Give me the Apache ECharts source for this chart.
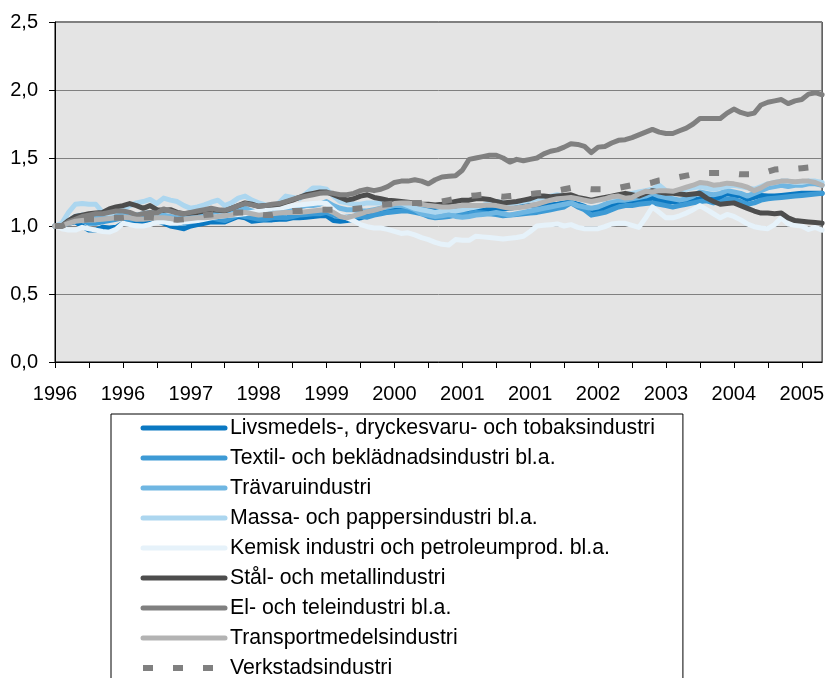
<!DOCTYPE html>
<html>
<head>
<meta charset="utf-8">
<script src="https://cdn.jsdelivr.net/npm/echarts@6/dist/echarts.min.js"></script>
<style>
  html, body { margin: 0; padding: 0; background: #fff; }
  #chart { width: 827px; height: 678px; }
</style>
</head>
<body>
<div id="chart"></div>
<script>
// månadsvärden jan 1996 - jun 2005, index 1996-01 = 1,0
var months = [];
for (var i = 0; i < 114; i++) {
    var mm = i % 12 + 1;
    months.push((1996 + Math.floor(i / 12)) + '-' + (mm < 10 ? '0' + mm : mm));
}

var livsmedel = [
    1.00, 1.00, 1.02, 1.03, 1.00, 0.97, 0.97, 0.99, 0.985, 0.99, 1.02, 1.03,
    1.04, 1.03, 1.05, 1.04, 1.02, 1.00, 0.99, 0.98, 1.00, 1.01, 1.02, 1.03,
    1.03, 1.03, 1.05, 1.07, 1.06, 1.035, 1.04, 1.045, 1.045, 1.05, 1.05, 1.06,
    1.06, 1.065, 1.07, 1.075, 1.075, 1.04, 1.035, 1.04, 1.05, 1.06, 1.08, 1.095,
    1.10, 1.11, 1.12, 1.125, 1.125, 1.13, 1.12, 1.12, 1.125, 1.13, 1.13, 1.12,
    1.115, 1.12, 1.115, 1.12, 1.125, 1.13, 1.125, 1.13, 1.14, 1.145, 1.15, 1.155,
    1.155, 1.155, 1.16, 1.17, 1.18, 1.16, 1.145, 1.095, 1.11, 1.125, 1.15, 1.175,
    1.18, 1.18, 1.18, 1.19, 1.205, 1.19, 1.18, 1.18, 1.175, 1.175, 1.19, 1.20,
    1.20, 1.195, 1.21, 1.24, 1.225, 1.22, 1.195, 1.21, 1.225, 1.22, 1.22, 1.225,
    1.23, 1.235, 1.24, 1.24, 1.24, 1.24
];
var textil = [
    1.00, 1.00, 1.03, 1.05, 1.04, 1.02, 1.02, 1.03, 1.04, 1.05, 1.06, 1.05,
    1.05, 1.06, 1.07, 1.05, 1.04, 1.03, 1.03, 1.02, 1.03, 1.04, 1.06, 1.06,
    1.05, 1.04, 1.06, 1.08, 1.07, 1.06, 1.05, 1.05, 1.06, 1.065, 1.06, 1.07,
    1.08, 1.085, 1.09, 1.09, 1.10, 1.08, 1.07, 1.065, 1.07, 1.07, 1.065, 1.08,
    1.09, 1.10, 1.105, 1.11, 1.11, 1.10, 1.09, 1.07, 1.06, 1.065, 1.07, 1.08,
    1.085, 1.09, 1.10, 1.095, 1.09, 1.085, 1.075, 1.08, 1.085, 1.09, 1.095, 1.10,
    1.11, 1.12, 1.13, 1.14, 1.17, 1.14, 1.12, 1.08, 1.09, 1.10, 1.12, 1.14,
    1.15, 1.15, 1.16, 1.165, 1.17, 1.16, 1.15, 1.14, 1.15, 1.16, 1.17, 1.18,
    1.185, 1.17, 1.175, 1.20, 1.195, 1.18, 1.16, 1.17, 1.19, 1.20, 1.205, 1.21,
    1.215, 1.22, 1.225, 1.23, 1.235, 1.24
];
var travaru = [
    1.00, 1.00, 1.04, 1.07, 1.08, 1.07, 1.06, 1.07, 1.08, 1.09, 1.10, 1.09,
    1.08, 1.09, 1.10, 1.09, 1.08, 1.07, 1.06, 1.06, 1.07, 1.08, 1.09, 1.10,
    1.09, 1.08, 1.10, 1.12, 1.13, 1.11, 1.10, 1.10, 1.11, 1.12, 1.12, 1.13,
    1.14, 1.15, 1.15, 1.16, 1.18, 1.15, 1.13, 1.12, 1.12, 1.11, 1.11, 1.12,
    1.13, 1.14, 1.15, 1.15, 1.14, 1.12, 1.09, 1.08, 1.07, 1.075, 1.085, 1.07,
    1.065, 1.07, 1.08, 1.085, 1.09, 1.10, 1.09, 1.08, 1.09, 1.10, 1.11, 1.12,
    1.13, 1.14, 1.15, 1.16, 1.17, 1.15, 1.14, 1.13, 1.14, 1.16, 1.18, 1.19,
    1.19, 1.20, 1.21, 1.22, 1.24, 1.22, 1.21, 1.20, 1.19, 1.20, 1.22, 1.25,
    1.24, 1.23, 1.24, 1.26, 1.25, 1.24, 1.22, 1.24, 1.26, 1.28, 1.29, 1.30,
    1.29, 1.30, 1.30, 1.31, 1.31, 1.30
];
var massa = [
    1.00, 1.02, 1.10, 1.16, 1.165, 1.16, 1.16, 1.10, 1.085, 1.11, 1.12, 1.15,
    1.17, 1.18, 1.195, 1.165, 1.205, 1.19, 1.18, 1.15, 1.13, 1.14, 1.155, 1.175,
    1.19, 1.15, 1.17, 1.205, 1.22, 1.19, 1.17, 1.155, 1.145, 1.17, 1.22, 1.21,
    1.20, 1.24, 1.28, 1.28, 1.27, 1.22, 1.18, 1.17, 1.16, 1.16, 1.17, 1.17,
    1.17, 1.17, 1.17, 1.17, 1.15, 1.13, 1.12, 1.11, 1.10, 1.11, 1.12, 1.11,
    1.12, 1.13, 1.14, 1.15, 1.17, 1.18, 1.17, 1.16, 1.17, 1.18, 1.19, 1.20,
    1.21, 1.22, 1.23, 1.22, 1.21, 1.20, 1.19, 1.18, 1.19, 1.20, 1.21, 1.22,
    1.23, 1.24, 1.25, 1.26, 1.27, 1.30, 1.26, 1.25, 1.26, 1.27, 1.28, 1.29,
    1.28, 1.27, 1.28, 1.29, 1.30, 1.29, 1.28, 1.27, 1.29, 1.31, 1.32, 1.33,
    1.33, 1.32, 1.32, 1.33, 1.33, 1.32
];
var kemisk = [
    1.00, 0.98, 0.97, 0.97, 0.99, 0.98, 0.97, 0.96, 0.955, 0.975, 1.02, 1.01,
    1.00, 1.00, 1.01, 1.03, 1.03, 1.02, 1.02, 1.03, 1.035, 1.04, 1.05, 1.06,
    1.07, 1.075, 1.08, 1.085, 1.09, 1.10, 1.11, 1.12, 1.13, 1.13, 1.14, 1.15,
    1.155, 1.16, 1.165, 1.17, 1.165, 1.12, 1.08, 1.06, 1.04, 1.01, 0.995, 0.985,
    0.985, 0.975, 0.96, 0.945, 0.95, 0.935, 0.915, 0.90, 0.88, 0.865, 0.86, 0.90,
    0.895, 0.895, 0.925, 0.92, 0.915, 0.91, 0.905, 0.91, 0.915, 0.925, 0.96, 1.00,
    1.005, 1.01, 1.015, 1.00, 1.01, 0.99, 0.98, 0.98, 0.98, 0.995, 1.015, 1.02,
    1.02, 1.005, 0.99, 1.06, 1.14, 1.10, 1.06, 1.06, 1.075, 1.095, 1.12, 1.15,
    1.12, 1.09, 1.06, 1.085, 1.07, 1.045, 1.015, 0.995, 0.985, 0.98, 1.01, 1.06,
    1.015, 1.005, 1.00, 0.975, 0.99, 0.97
];
var stal = [
    1.00, 1.00, 1.04, 1.07, 1.08, 1.09, 1.095, 1.10, 1.125, 1.14, 1.15, 1.165,
    1.15, 1.13, 1.15, 1.12, 1.115, 1.12, 1.10, 1.09, 1.095, 1.10, 1.11, 1.12,
    1.115, 1.11, 1.13, 1.15, 1.17, 1.16, 1.145, 1.15, 1.155, 1.16, 1.175, 1.19,
    1.21, 1.23, 1.24, 1.25, 1.25, 1.23, 1.21, 1.19, 1.20, 1.22, 1.23, 1.21,
    1.20, 1.19, 1.185, 1.18, 1.175, 1.17, 1.16, 1.16, 1.155, 1.16, 1.17, 1.18,
    1.19, 1.19, 1.20, 1.20, 1.195, 1.18, 1.17, 1.175, 1.18, 1.19, 1.20, 1.22,
    1.22, 1.215, 1.22, 1.225, 1.23, 1.21, 1.20, 1.19, 1.20, 1.21, 1.22, 1.23,
    1.24, 1.23, 1.22, 1.24, 1.26, 1.25, 1.24, 1.24, 1.235, 1.23, 1.235, 1.24,
    1.205, 1.18, 1.16, 1.165, 1.17, 1.15, 1.13, 1.11, 1.095, 1.095, 1.09, 1.095,
    1.06, 1.04, 1.035, 1.03, 1.025, 1.02
];
var eltele = [
    1.00, 1.00, 1.03, 1.05, 1.07, 1.08, 1.09, 1.09, 1.10, 1.11, 1.11, 1.10,
    1.08, 1.09, 1.10, 1.095, 1.125, 1.11, 1.095, 1.09, 1.10, 1.11, 1.12, 1.13,
    1.12, 1.115, 1.13, 1.15, 1.165, 1.155, 1.145, 1.15, 1.16, 1.165, 1.18, 1.195,
    1.21, 1.22, 1.23, 1.24, 1.245, 1.24, 1.23, 1.23, 1.24, 1.26, 1.27, 1.26,
    1.27, 1.29, 1.32, 1.33, 1.33, 1.34, 1.33, 1.31, 1.34, 1.36, 1.365, 1.37,
    1.41, 1.49, 1.50, 1.51, 1.52, 1.52, 1.50, 1.47, 1.49, 1.48, 1.49, 1.50,
    1.53, 1.55, 1.56, 1.58, 1.605, 1.60, 1.585, 1.54, 1.58, 1.585, 1.61, 1.63,
    1.635, 1.65, 1.67, 1.69, 1.71, 1.69, 1.68, 1.68, 1.70, 1.72, 1.75, 1.79,
    1.79, 1.79, 1.79, 1.83, 1.86, 1.835, 1.82, 1.83, 1.89, 1.91, 1.92, 1.93,
    1.90, 1.92, 1.93, 1.97, 1.98, 1.965
];
var transport = [
    1.00, 1.00, 1.02, 1.035, 1.04, 1.045, 1.045, 1.05, 1.055, 1.06, 1.065, 1.06,
    1.05, 1.05, 1.055, 1.06, 1.06, 1.055, 1.045, 1.05, 1.055, 1.06, 1.06, 1.065,
    1.07, 1.075, 1.08, 1.095, 1.10, 1.09, 1.08, 1.085, 1.09, 1.095, 1.10, 1.10,
    1.10, 1.105, 1.11, 1.115, 1.12, 1.10, 1.07, 1.06, 1.075, 1.09, 1.105, 1.115,
    1.13, 1.15, 1.165, 1.17, 1.17, 1.165, 1.16, 1.15, 1.145, 1.14, 1.14, 1.145,
    1.15, 1.15, 1.15, 1.15, 1.155, 1.15, 1.14, 1.13, 1.135, 1.14, 1.15, 1.16,
    1.175, 1.19, 1.20, 1.205, 1.21, 1.20, 1.19, 1.18, 1.19, 1.20, 1.215, 1.22,
    1.205, 1.21, 1.235, 1.255, 1.25, 1.26, 1.26, 1.255, 1.27, 1.285, 1.30, 1.32,
    1.315, 1.30, 1.305, 1.315, 1.31, 1.30, 1.285, 1.26, 1.28, 1.31, 1.32, 1.33,
    1.33, 1.325, 1.33, 1.33, 1.32, 1.30
];
var verkstad = [
    1.00, 1.00, 1.02, 1.035, 1.045, 1.05, 1.05, 1.055, 1.06, 1.06, 1.06, 1.065,
    1.065, 1.065, 1.065, 1.06, 1.055, 1.05, 1.045, 1.05, 1.06, 1.07, 1.08, 1.085,
    1.09, 1.095, 1.10, 1.10, 1.10, 1.09, 1.085, 1.08, 1.08, 1.09, 1.10, 1.11,
    1.11, 1.115, 1.115, 1.12, 1.12, 1.12, 1.12, 1.125, 1.125, 1.13, 1.14, 1.15,
    1.155, 1.16, 1.165, 1.165, 1.17, 1.17, 1.17, 1.175, 1.175, 1.18, 1.19, 1.20,
    1.21, 1.22, 1.225, 1.23, 1.225, 1.22, 1.215, 1.22, 1.225, 1.23, 1.235, 1.24,
    1.245, 1.25, 1.26, 1.27, 1.28, 1.28, 1.275, 1.27, 1.27, 1.27, 1.275, 1.28,
    1.29, 1.30, 1.305, 1.31, 1.32, 1.335, 1.34, 1.35, 1.36, 1.37, 1.38, 1.385,
    1.39, 1.39, 1.39, 1.39, 1.385, 1.38, 1.38, 1.38, 1.39, 1.40, 1.415, 1.42,
    1.42, 1.42, 1.425, 1.43, 1.43, 1.425
];

var seriesConf = [
    { name: 'Livsmedels-, dryckesvaru- och tobaksindustri', data: livsmedel, color: '#0a78c2' },
    { name: 'Textil- och beklädnadsindustri bl.a.', data: textil, color: '#3d9ad5' },
    { name: 'Trävaruindustri', data: travaru, color: '#6fb6e2' },
    { name: 'Massa- och pappersindustri bl.a.', data: massa, color: '#acd6ef' },
    { name: 'Kemisk industri och petroleumprod. bl.a.', data: kemisk, color: '#e6f2fa' },
    { name: 'Stål- och metallindustri', data: stal, color: '#4d4d4d' },
    { name: 'El- och teleindustri bl.a.', data: eltele, color: '#808080' },
    { name: 'Transportmedelsindustri', data: transport, color: '#b3b3b3' },
    { name: 'Verkstadsindustri', data: verkstad, color: '#808080', dashed: true }
];

var font = '"Liberation Sans", Arial, sans-serif';

function lineStyleOf(s) {
    return s.dashed
        ? { color: s.color, width: 6, type: [10, 20], cap: 'butt' }
        : { color: s.color, width: 5, cap: 'round', join: 'round' };
}

var chart = echarts.init(document.getElementById('chart'), null, { renderer: 'canvas' });

var series = seriesConf.map(function (s) {
    return {
        name: s.name,
        type: 'line',
        data: s.data,
        symbol: 'none',
        showSymbol: false,
        silent: true,
        lineStyle: lineStyleOf(s),
        itemStyle: { color: s.color }
    };
});

chart.setOption({
    animation: false,
    backgroundColor: '#ffffff',
    textStyle: { fontFamily: font, color: '#000' },
    grid: {
        left: 55, top: 22, width: 768, height: 340,
        show: true,
        backgroundColor: '#e4e4e4',
        borderColor: '#000',
        borderWidth: 1
    },
    xAxis: {
        type: 'category',
        data: months,
        boundaryGap: false,
        axisLine: { lineStyle: { color: '#000', width: 1 } },
        axisTick: { interval: 4, length: 6, lineStyle: { color: '#000' } },
        axisLabel: {
            interval: 9,
            margin: 22,
            fontSize: 20,
            fontFamily: font,
            color: '#000',
            formatter: function (v) { return v.slice(0, 4); }
        },
        splitLine: { show: false }
    },
    yAxis: {
        type: 'value',
        min: 0,
        max: 2.5,
        interval: 0.5,
        axisLine: { show: true, lineStyle: { color: '#000', width: 1 } },
        axisTick: { show: true, length: 6, lineStyle: { color: '#000' } },
        axisLabel: {
            margin: 17,
            fontSize: 20,
            fontFamily: font,
            color: '#000',
            formatter: function (v) { return v.toFixed(1).replace('.', ','); }
        },
        splitLine: { lineStyle: { color: '#808080', width: 1 } }
    },
    legend: {
        orient: 'vertical',
        left: 111,
        top: 414,
        height: 300,
        padding: [2, 28, 10, 29],
        itemGap: 6,
        itemWidth: 82,
        itemHeight: 14,
        borderColor: '#000',
        borderWidth: 1,
        backgroundColor: '#fff',
        selectedMode: false,
        itemStyle: { opacity: 0 },
        textStyle: { fontSize: 21.3, lineHeight: 24, fontFamily: font, color: '#000' },
        data: seriesConf.map(function (s) {
            return { name: s.name, lineStyle: lineStyleOf(s) };
        })
    },
    series: series
});
</script>
</body>
</html>
